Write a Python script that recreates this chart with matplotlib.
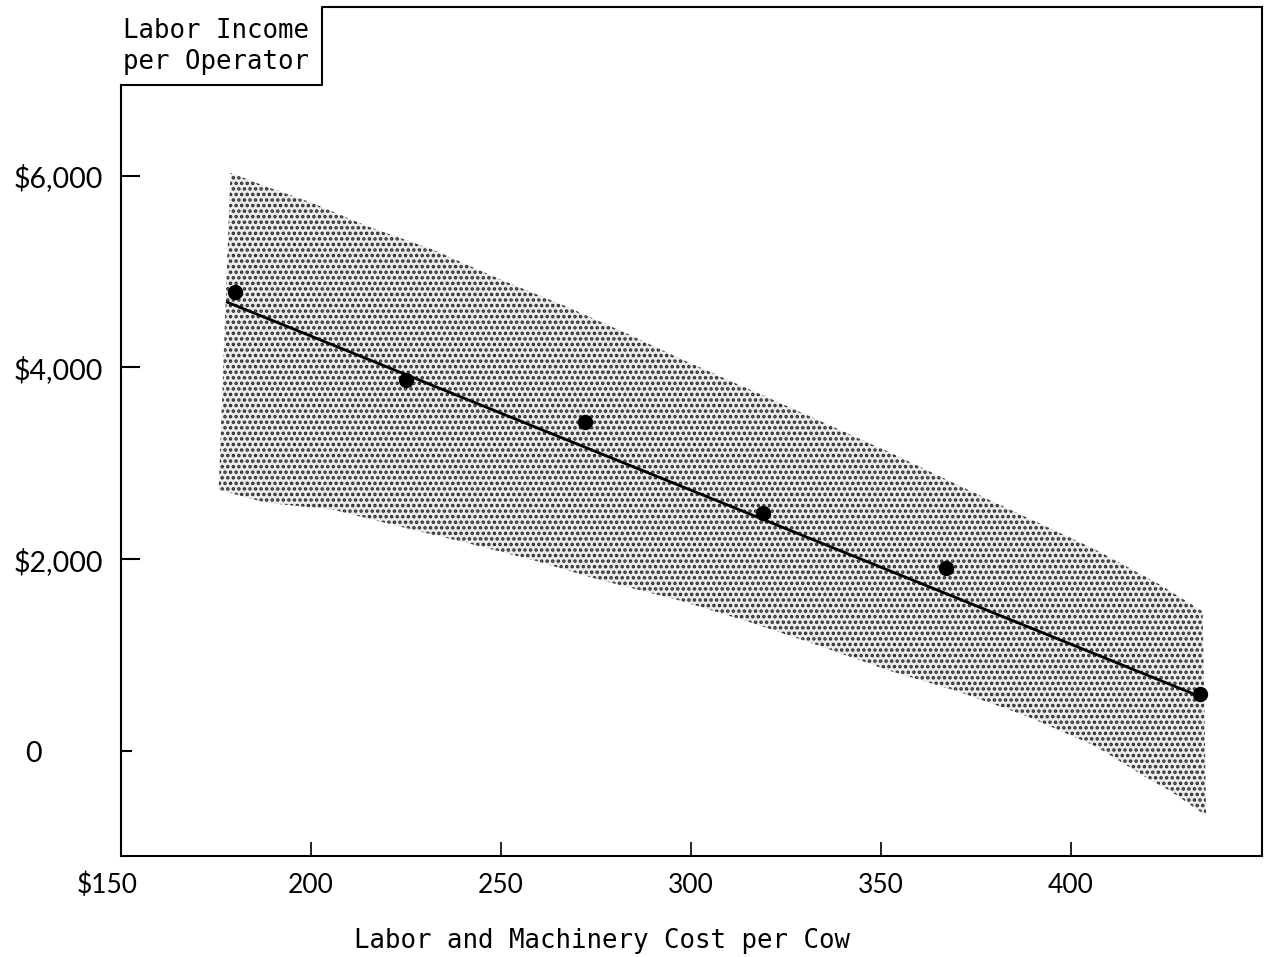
import numpy as np
import matplotlib
matplotlib.use("Agg")
import matplotlib.pyplot as plt
from matplotlib.transforms import ScaledTranslation

# points
cost = [180, 225, 272, 319, 367, 434]
income = [4790, 3870, 3430, 2480, 1910, 590]

# fitted line (ends)
fit_x = [178, 432]
fit_y = [4680, 600]

# shaded band, upper and lower edge
band_up_x = [178.8, 188, 200, 215, 232, 250, 267, 285, 297, 324, 352, 379, 406, 423, 434.7]
band_up_y = [6030, 5890, 5720, 5470, 5230, 4915, 4640, 4320, 4095, 3620, 3120, 2610, 2110, 1745, 1456]
band_lo_x = [175.7, 188, 206, 223.5, 241, 258.5, 276, 297, 315, 334, 352, 370, 388, 406.5, 420, 426.5, 435.6]
band_lo_y = [2724, 2590, 2515, 2340, 2170, 1990, 1785, 1570, 1350, 1095, 840, 625, 370, 50, -280, -425, -676]

xticks = [150, 200, 250, 300, 350, 400]
xlabels = ["$150", "200", "250", "300", "350", "400"]
yticks = [2000, 4000, 6000]
ylabels = ["$2,000", "$4,000", "$6,000"]

mono = "DejaVu Sans Mono"
num = "Lato"

fig = plt.figure(figsize=(12.7, 9.57), dpi=100)
ax = fig.add_axes([0.0953, 0.1055, 0.8984, 0.8872])
ax.set_xlim(150, 450.3)
ax.set_ylim(-1095, 7759)

# band with dots
poly_x = band_up_x + band_lo_x[::-1]
poly_y = band_up_y + band_lo_y[::-1]
plt.rcParams['hatch.linewidth'] = 1.7
ax.fill(poly_x, poly_y, facecolor="#ececec", edgecolor="#2a2a2a", hatch="...", linewidth=0)

ax.plot(fit_x, fit_y, color="black", lw=2)
ax.plot(cost, income, "o", color="black", ms=10)

# frame
ax.spines['top'].set_visible(False)
ax.spines['left'].set_bounds(-1095, 6946)
for s in ['left', 'bottom', 'right']:
    ax.spines[s].set_linewidth(1.5)
bx = 0.1759
by = (6946 + 1095) / (7759 + 1095)
ax.plot([0, bx, bx, 1], [by, by, 1, 1], transform=ax.transAxes, color="black",
        lw=1.5, clip_on=False)

ax.text(0.002, 0.987, "Labor Income\nper Operator", transform=ax.transAxes,
        ha="left", va="top", fontsize=18.5, family=mono, linespacing=1.25)

ax.set_xticks(xticks, labels=xlabels)
ax.set_yticks(yticks, labels=ylabels)
ax.set_yticks([0], labels=["0"], minor=True)
ax.tick_params(axis="x", direction="in", length=10, width=1.2, pad=12,
               labelsize=19)
ax.tick_params(axis="y", which="major", direction="in", length=14, width=1.5,
               pad=13, labelsize=20.5)
ax.tick_params(axis="y", which="minor", direction="in", length=8, width=1.5,
               pad=57, labelsize=20.5)
for lab in ax.get_xticklabels() + ax.get_yticklabels() + ax.get_yticklabels(minor=True):
    lab.set_family(num)
xl0 = ax.get_xticklabels()[0]
xl0.set_transform(xl0.get_transform() + ScaledTranslation(-0.14, 0, fig.dpi_scale_trans))

ax.set_xlabel("Labor and Machinery Cost per Cow", fontsize=18.5, family=mono)
ax.xaxis.label.set_va("center")
ax.xaxis.set_label_coords((602 - 121) / 1141, -0.100)

fig.savefig("out.png", dpi=100)
